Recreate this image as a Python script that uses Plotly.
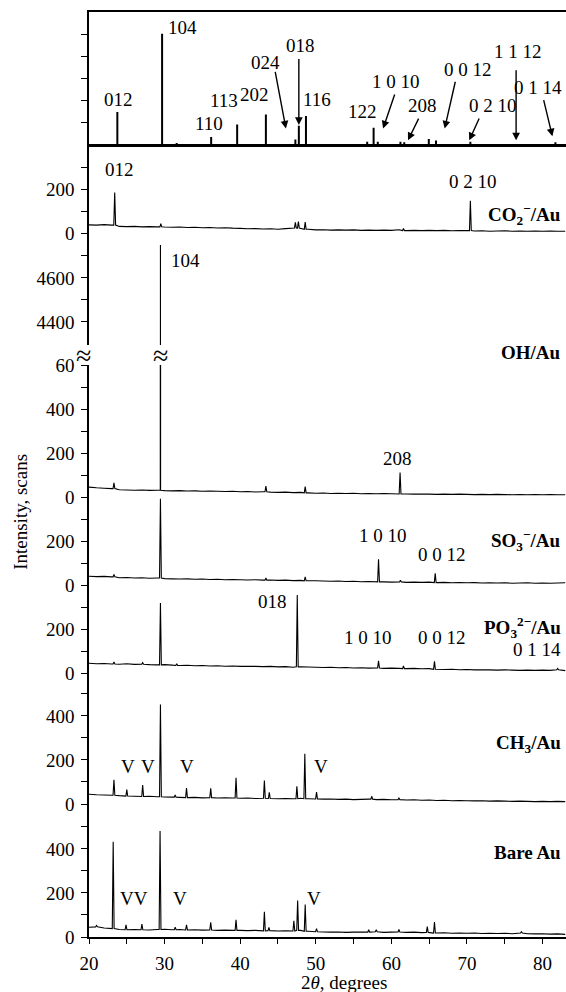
import plotly.graph_objects as go

# ---------------- data ----------------
GRID = list(range(20, 84))  # 2-theta grid (deg) of the baseline readings

# Reference stick pattern (top panel): positions (deg) and relative heights
ref_x = [23.75, 29.67, 31.6, 36.16, 39.6, 43.4, 47.3, 47.76, 48.7, 56.8, 57.65, 58.2,
         61.2, 61.7, 64.95, 65.9, 70.45, 77.5, 81.7, 82.1]
ref_h = [1.49, 5.02, 0.09, 0.36, 0.93, 1.38, 0.25, 0.87, 1.31, 0.15, 0.78, 0.15,
         0.15, 0.12, 0.27, 0.20, 0.15, 0.05, 0.12, 0.05]

co2_bg = [37, 36, 38, 36, 30, 29, 30, 28, 29, 28,
          27, 26, 27, 25, 26, 24, 25, 23, 24, 22,
          21, 19, 20, 18, 19, 17, 20, 23, 22, 17,
          14, 15, 13, 14, 13, 14, 12, 13, 12, 13,
          12, 15, 11, 12, 11, 12, 11, 12, 10, 11,
          11, 9, 10, 8, 9, 10, 8, 9, 8, 9,
          8, 9, 8, 8]
co2_pk_x = [23.4, 29.5, 47.3, 47.7, 48.6, 61.6, 70.45]
co2_pk_y = [184, 42, 48, 52, 50, 20, 147]

oh_bg = [45, 42, 40, 38, 33, 32, 31, 32, 30, 31,
         29, 28, 29, 27, 28, 26, 27, 26, 25, 26,
         24, 25, 23, 24, 22, 21, 22, 20, 21, 19,
         17, 18, 16, 17, 16, 17, 15, 16, 15, 16,
         15, 14, 14, 13, 14, 13, 12, 13, 12, 13,
         12, 11, 12, 11, 12, 11, 10, 11, 10, 11,
         10, 11, 10, 10]
oh_pk_x = [23.3, 29.45, 43.4, 48.6, 61.15]
oh_pk_y = [65, 4750, 50, 47, 112]

so3_bg = [40, 38, 39, 37, 33, 34, 32, 33, 31, 32,
          29, 28, 27, 28, 26, 27, 25, 26, 24, 25,
          24, 23, 24, 22, 23, 21, 22, 20, 21, 19,
          19, 18, 17, 18, 16, 17, 15, 16, 14, 14,
          13, 14, 12, 13, 12, 13, 11, 12, 10, 11,
          10, 11, 9, 10, 9, 10, 8, 9, 10, 8,
          9, 8, 9, 10]
so3_pk_x = [23.3, 29.45, 43.4, 48.6, 58.3, 61.2, 65.8]
so3_pk_y = [48, 392, 32, 37, 117, 22, 53]

po3_bg = [44, 42, 43, 41, 40, 42, 39, 40, 38, 37,
          38, 36, 34, 35, 33, 34, 32, 33, 31, 32,
          30, 31, 30, 29, 30, 28, 29, 26, 28, 27,
          26, 25, 26, 24, 25, 23, 24, 22, 23, 21,
          22, 21, 20, 21, 19, 20, 17, 16, 17, 15,
          16, 14, 15, 14, 13, 14, 13, 12, 13, 12,
          13, 12, 15, 11]
po3_pk_x = [23.3, 27.1, 29.45, 31.6, 47.55, 58.3, 61.6, 65.7, 82.0]
po3_pk_y = [50, 47, 318, 42, 355, 55, 32, 53, 21]

ch3_bg = [44, 42, 41, 40, 38, 36, 35, 34, 35, 33,
          32, 31, 30, 29, 30, 28, 29, 27, 28, 27,
          26, 27, 25, 26, 25, 24, 25, 24, 26, 24,
          23, 22, 23, 21, 22, 20, 21, 22, 20, 21,
          19, 20, 18, 19, 17, 18, 16, 17, 15, 16,
          15, 14, 15, 13, 14, 13, 12, 13, 12, 11,
          12, 11, 12, 11]
ch3_pk_x = [23.3, 25.0, 27.1, 29.45, 31.4, 32.9, 36.1, 39.45, 43.2, 43.85,
            47.5, 48.55, 50.1, 57.4, 61.0]
ch3_pk_y = [110, 65, 86, 452, 41, 72, 71, 119, 107, 53,
            80, 228, 54, 35, 27]

bare_bg = [44, 46, 41, 38, 34, 33, 34, 33, 32, 34,
           35, 33, 34, 32, 33, 31, 32, 30, 31, 30,
           30, 29, 30, 28, 29, 27, 28, 27, 30, 26,
           24, 23, 22, 23, 21, 22, 23, 22, 24, 21,
           22, 23, 21, 22, 20, 21, 18, 19, 17, 18,
           17, 18, 16, 17, 16, 17, 15, 18, 15, 14,
           15, 13, 14, 12]
bare_pk_x = [21.0, 23.2, 24.9, 27.0, 29.4, 31.4, 32.9, 36.1, 39.45, 43.2, 43.8,
             47.1, 47.6, 48.6, 50.1, 57.0, 58.0, 61.0, 64.75, 65.7, 77.2]
bare_pk_y = [52, 432, 55, 59, 481, 44, 55, 67, 78, 114, 44,
             74, 166, 148, 38, 33, 33, 34, 47, 68, 24]

x_ticks = [20, 25, 30, 35, 40, 45, 50, 55, 60, 65, 70, 75, 80]
x_ticktext = ["20", "", "30", "", "40", "", "50", "", "60", "", "70", "", "80"]


# ---------------- helpers ----------------
def build(bg, pk_x, pk_y, half=0.12):
    pts = [(g, b) for g, b in zip(GRID, bg) if all(abs(g - p) >= 0.3 for p in pk_x)]
    for p, h in zip(pk_x, pk_y):
        foot = bg[min(range(len(GRID)), key=lambda i: abs(GRID[i] - p))]
        hw = half if h < 1000 else 0.02
        pts += [(p - hw, foot), (p, h), (p + hw, foot)]
    pts.sort()
    return [a for a, _ in pts], [b for _, b in pts]


def sticks(px, ph):
    xs, ys = [20.0], [0.0]
    for p, h in sorted(zip(px, ph)):
        xs += [p, p, p]
        ys += [0, h, 0]
    xs.append(83.1)
    ys.append(0)
    return xs, ys


SERIF = "Liberation Serif"
FONT = dict(family=SERIF, size=19, color="black")
LINE = dict(color="black", width=1.1, simplify=False)

fig = go.Figure()

sx, sy = sticks(ref_x, ref_h)
fig.add_trace(go.Scatter(x=sx, y=sy, xaxis="x2", yaxis="y8", mode="lines",
                         line=dict(color="black", width=2, simplify=False),
                         hoverinfo="skip"))

for bg, kx, ky, ya in [(co2_bg, co2_pk_x, co2_pk_y, "y7"),
                       (oh_bg, oh_pk_x, oh_pk_y, "y6"),
                       (oh_bg, oh_pk_x, oh_pk_y, "y5"),
                       (so3_bg, so3_pk_x, so3_pk_y, "y4"),
                       (po3_bg, po3_pk_x, po3_pk_y, "y3"),
                       (ch3_bg, ch3_pk_x, ch3_pk_y, "y2"),
                       (bare_bg, bare_pk_x, bare_pk_y, "y")]:
    xx, yy = build(bg, kx, ky)
    fig.add_trace(go.Scatter(x=xx, y=yy, xaxis="x", yaxis=ya, mode="lines",
                             line=LINE, hoverinfo="skip"))

# ---------------- layout ----------------
PB, H = 937, 925.0


def dom(top_px, bot_px):
    return [(PB - bot_px) / H, (PB - top_px) / H]


def yax(domain, rng, tv, tt, anchor="x"):
    return dict(domain=domain, range=rng, anchor=anchor, tickvals=tv, ticktext=tt,
                ticks="outside", ticklen=6, tickwidth=1.2, tickcolor="black",
                showline=True, linecolor="black", linewidth=1.5, showgrid=False,
                zeroline=False, tickfont=FONT, ticklabelstandoff=3)


lay = dict(
    width=566, height=992, margin=dict(l=89, r=0, t=12, b=55),
    plot_bgcolor="white", paper_bgcolor="white", showlegend=False,
    xaxis=dict(domain=[0, 1], range=[20, 83.1], anchor="y", tickvals=x_ticks,
               ticktext=x_ticktext, ticks="outside", ticklen=5, tickwidth=1.2,
               tickcolor="black", showline=True, linecolor="black", linewidth=1.5,
               showgrid=False, zeroline=False, tickfont=FONT, ticklabelstandoff=3),
    xaxis2=dict(domain=[0, 1], range=[20, 83.1], anchor="y8", matches="x",
                showline=True, mirror=True, linecolor="black", linewidth=2,
                ticks="", showticklabels=False, showgrid=False, zeroline=False),
    yaxis=yax(dom(804, 937), [0, 604], [0, 100, 200, 300, 400, 500],
              ["0", "", "200", "", "400", ""]),
    yaxis2=yax(dom(673, 804), [0, 595], [0, 100, 200, 300, 400, 500],
               ["0", "", "200", "", "400", ""]),
    yaxis3=yax(dom(585, 673), [0, 400], [0, 100, 200, 300], ["0", "", "200", ""]),
    yaxis4=yax(dom(497, 585), [0, 400], [0, 100, 200, 300], ["0", "", "200", ""]),
    yaxis5=yax(dom(365, 497), [0, 601], [0, 100, 200, 300, 400, 500, 600],
               ["0", "", "200", "", "400", "", "60"]),
    yaxis6=yax(dom(233, 345), [4295, 4804], [4400, 4500, 4600, 4700],
               ["4400", "", "4600", ""]),
    yaxis7=yax(dom(145, 233), [0, 400], [0, 100, 200, 300], ["0", "", "200", ""]),
    yaxis8=yax(dom(12, 145), [0, 6], [1, 2, 3, 4, 5], ["", "", "", "", ""], anchor="x2"),
)
fig.update_layout(**lay)

ann = []


def txt(x, y, s, xr="x", yr="y", xanchor="center", size=19, bold=False):
    ann.append(dict(x=x, y=y, xref=xr, yref=yr, text=("<b>%s</b>" % s) if bold else s,
                    showarrow=False, xanchor=xanchor, yanchor="middle",
                    font=dict(family=SERIF, size=size, color="black")))


# top panel labels
for s, x, y in [("012", 23.9, 2.06), ("110", 35.9, 0.96), ("113", 37.9, 2.0),
                ("202", 41.85, 2.3), ("024", 43.3, 3.71), ("018", 48.0, 4.5),
                ("116", 50.15, 2.06), ("122", 56.2, 1.53), ("1 0 10", 60.6, 2.87),
                ("208", 64.1, 1.79), ("0 0 12", 70.1, 3.41), ("0 2 10", 73.5, 1.79),
                ("1 1 12", 76.8, 4.24)]:
    txt(x, y, s, "x2", "y8")
txt(30.2, 5.32, "104", "x2", "y8", xanchor="left")
txt(75.9, 2.59, "0 1 14", "x2", "y8", xanchor="left")

# top panel arrows: (tail x, tail y, head x, head y)
for tx, ty, hx, hy in [(44.6, 3.37, 46.05, 0.74), (47.76, 3.95, 47.76, 0.9),
                       (60.5, 2.35, 58.9, 0.74), (63.7, 1.26, 62.2, 0.21),
                       (68.5, 2.92, 67.05, 0.74), (71.7, 1.26, 70.3, 0.21),
                       (76.5, 3.44, 76.5, 0.21), (80.1, 2.09, 81.3, 0.39)]:
    ann.append(dict(x=hx, y=hy, ax=tx, ay=ty, xref="x2", yref="y8", axref="x2",
                    ayref="y8", text="", showarrow=True, arrowhead=2, arrowsize=1.1,
                    arrowwidth=1.4, arrowcolor="black"))

# panel peak labels
txt(24.1, 288, "012", yr="y7")
txt(70.8, 232, "0 2 10", yr="y7")
txt(30.6, 4680, "104", yr="y6", xanchor="left")
txt(60.75, 177, "208", yr="y5")
txt(58.9, 227, "1 0 10", yr="y4")
txt(66.7, 139, "0 0 12", yr="y4")
txt(44.3, 324, "018", yr="y3")
txt(56.9, 161, "1 0 10", yr="y3")
txt(66.7, 161, "0 0 12", yr="y3")
txt(79.3, 106, "0 1 14", yr="y3")
for x in [25.2, 27.8, 33.0, 50.7]:
    txt(x, 170, "V", yr="y2")
txt(26.0, 175, "VV", yr="y")
txt(32.0, 175, "V", yr="y")
txt(49.7, 175, "V", yr="y")

# panel names
for s, ypx in [("CO<sub>2</sub><sup>−</sup>/Au", 215), ("OH/Au", 352),
               ("SO<sub>3</sub><sup>−</sup>/Au", 541), ("PO<sub>3</sub><sup>2−</sup>/Au", 627),
               ("CH<sub>3</sub>/Au", 744), ("Bare Au", 852)]:
    txt(0.994, (PB - ypx) / H, s, "paper", "paper", xanchor="right", bold=True)

# axis break marks
brk_y = (PB - 355) / H
ann.append(dict(x=-0.012, y=brk_y, xref="paper", yref="paper", text="≈", showarrow=False,
                xanchor="center", yanchor="middle",
                font=dict(family=SERIF, size=28, color="black")))
ann.append(dict(x=29.4, y=brk_y, xref="x", yref="paper", text="≈", showarrow=False,
                xanchor="center", yanchor="middle",
                font=dict(family=SERIF, size=28, color="black")))

# axis titles
ann.append(dict(x=-0.145, y=(PB - 512) / H, xref="paper", yref="paper",
                text="Intensity, scans", textangle=-90, showarrow=False,
                xanchor="center", yanchor="middle",
                font=dict(family=SERIF, size=19, color="black")))
ann.append(dict(x=0.535, y=(PB - 983) / H, xref="paper", yref="paper",
                text="2<i>θ</i>, degrees", showarrow=False,
                xanchor="center", yanchor="middle",
                font=dict(family=SERIF, size=19, color="black")))

fig.update_layout(annotations=ann)
fig.write_html("out.html")
